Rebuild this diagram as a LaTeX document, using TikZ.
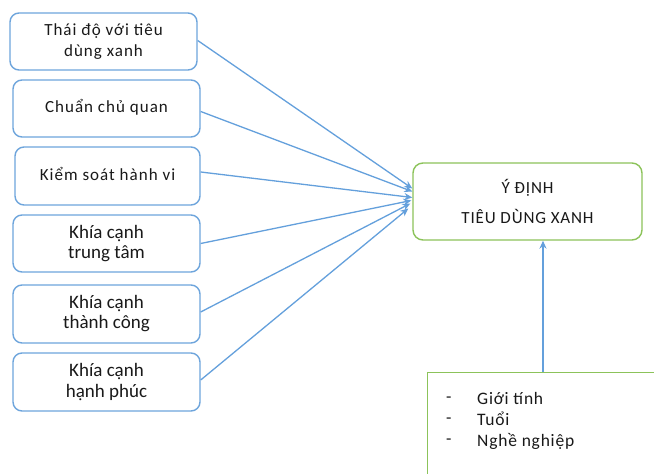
\documentclass[tikz,border=0pt]{standalone}
\usepackage{fontspec}
\setmainfont{Carlito}
\newfontfamily\spaced[LetterSpace=6]{Carlito}
\newfontfamily\spacedb[LetterSpace=5]{Carlito}
\newfontfamily\spacedc[LetterSpace=4.5]{Carlito}
\usetikzlibrary{arrows.meta,calc}
\definecolor{lblue}{RGB}{110,165,220}
\definecolor{ablue}{RGB}{100,160,220}
\definecolor{lgreen}{RGB}{140,195,90}
\definecolor{txt}{RGB}{25,25,25}
\tikzset{
  srcbox/.style={draw=lblue,line width=1.4pt,rounded corners=9pt,minimum width=187pt,minimum height=57pt,align=center,text=txt,font=\fontsize{19}{20}\selectfont,inner sep=0pt},
  srcboxs/.style={srcbox,font=\spaced\fontsize{17}{21}\selectfont},
  tgtbox/.style={draw=lgreen,line width=1.4pt,rounded corners=10pt,minimum width=229pt,minimum height=77pt,align=center,text=txt,font=\spacedb\fontsize{17}{30}\selectfont,inner sep=0pt},
  dtext/.style={anchor=west,text=txt,font=\spacedc\fontsize{17.5}{21}\selectfont,align=left,inner sep=0pt},
  arr/.style={draw=ablue,line width=1.3pt,-{Stealth[length=8pt,width=7pt]}},
}
\begin{document}
\begin{tikzpicture}[x=1pt,y=1pt]
\useasboundingbox (0,0) rectangle (654,474);
\clip (0,0) rectangle (654,474);
\fill[white] (0,0) rectangle (654,474);
\node[srcboxs] (b1) at (103.5,432.5) {Thái độ với tiêu\\dùng xanh};
\node[srcboxs] (b2) at (106.5,365.5) {\raisebox{5pt}{Chuẩn chủ quan}};
\node[srcboxs,minimum width=185pt,minimum height=58pt] (b3) at (107.5,298) {\raisebox{5pt}{Kiểm soát hành vi}};
\node[srcbox] (b4) at (106.5,230.5) {Khía cạnh\\trung tâm};
\node[srcbox,minimum height=58pt] (b5) at (106.5,160) {Khía cạnh\\thành công};
\node[srcbox,minimum height=58pt] (b6) at (106.5,92) {\raisebox{2pt}{\shortstack{Khía cạnh\\[1pt]hạnh phúc}}};
\node[tgtbox] (t) at (527.5,272.5) {Ý ĐỊNH\\TIÊU DÙNG XANH};
\node[draw=lgreen,line width=1.4pt,minimum width=240pt,minimum height=120pt,anchor=north west,inner sep=0pt] (d) at (427,102) {};
\node[dtext] (dl) at (446,53) {-\\-\\-};
\node[dtext] (dt) at (477,53) {Giới tính\\Tuổi\\Nghề nghiệp};
\coordinate (d1) at ($(d.north west)+(116,0)$);
\draw[arr] (d1) -- (d1 |- t.south);
\draw[arr] ([yshift=1pt]b1.east) -- ([yshift=13pt]t.west);
\draw[arr] ([yshift=-3pt]b2.east) -- ([yshift=10pt]t.west);
\draw[arr] ([yshift=4pt]b3.east) -- ([yshift=4pt]t.west);
\draw[arr] (b4.east) -- ([yshift=1pt,xshift=-1pt]t.west);
\draw[arr] ([yshift=2pt]b5.east) -- ([yshift=-2pt,xshift=-2pt]t.west);
\draw[arr] ([yshift=2pt]b6.east) -- ([yshift=-7pt,xshift=-4pt]t.west);
\end{tikzpicture}
\end{document}
